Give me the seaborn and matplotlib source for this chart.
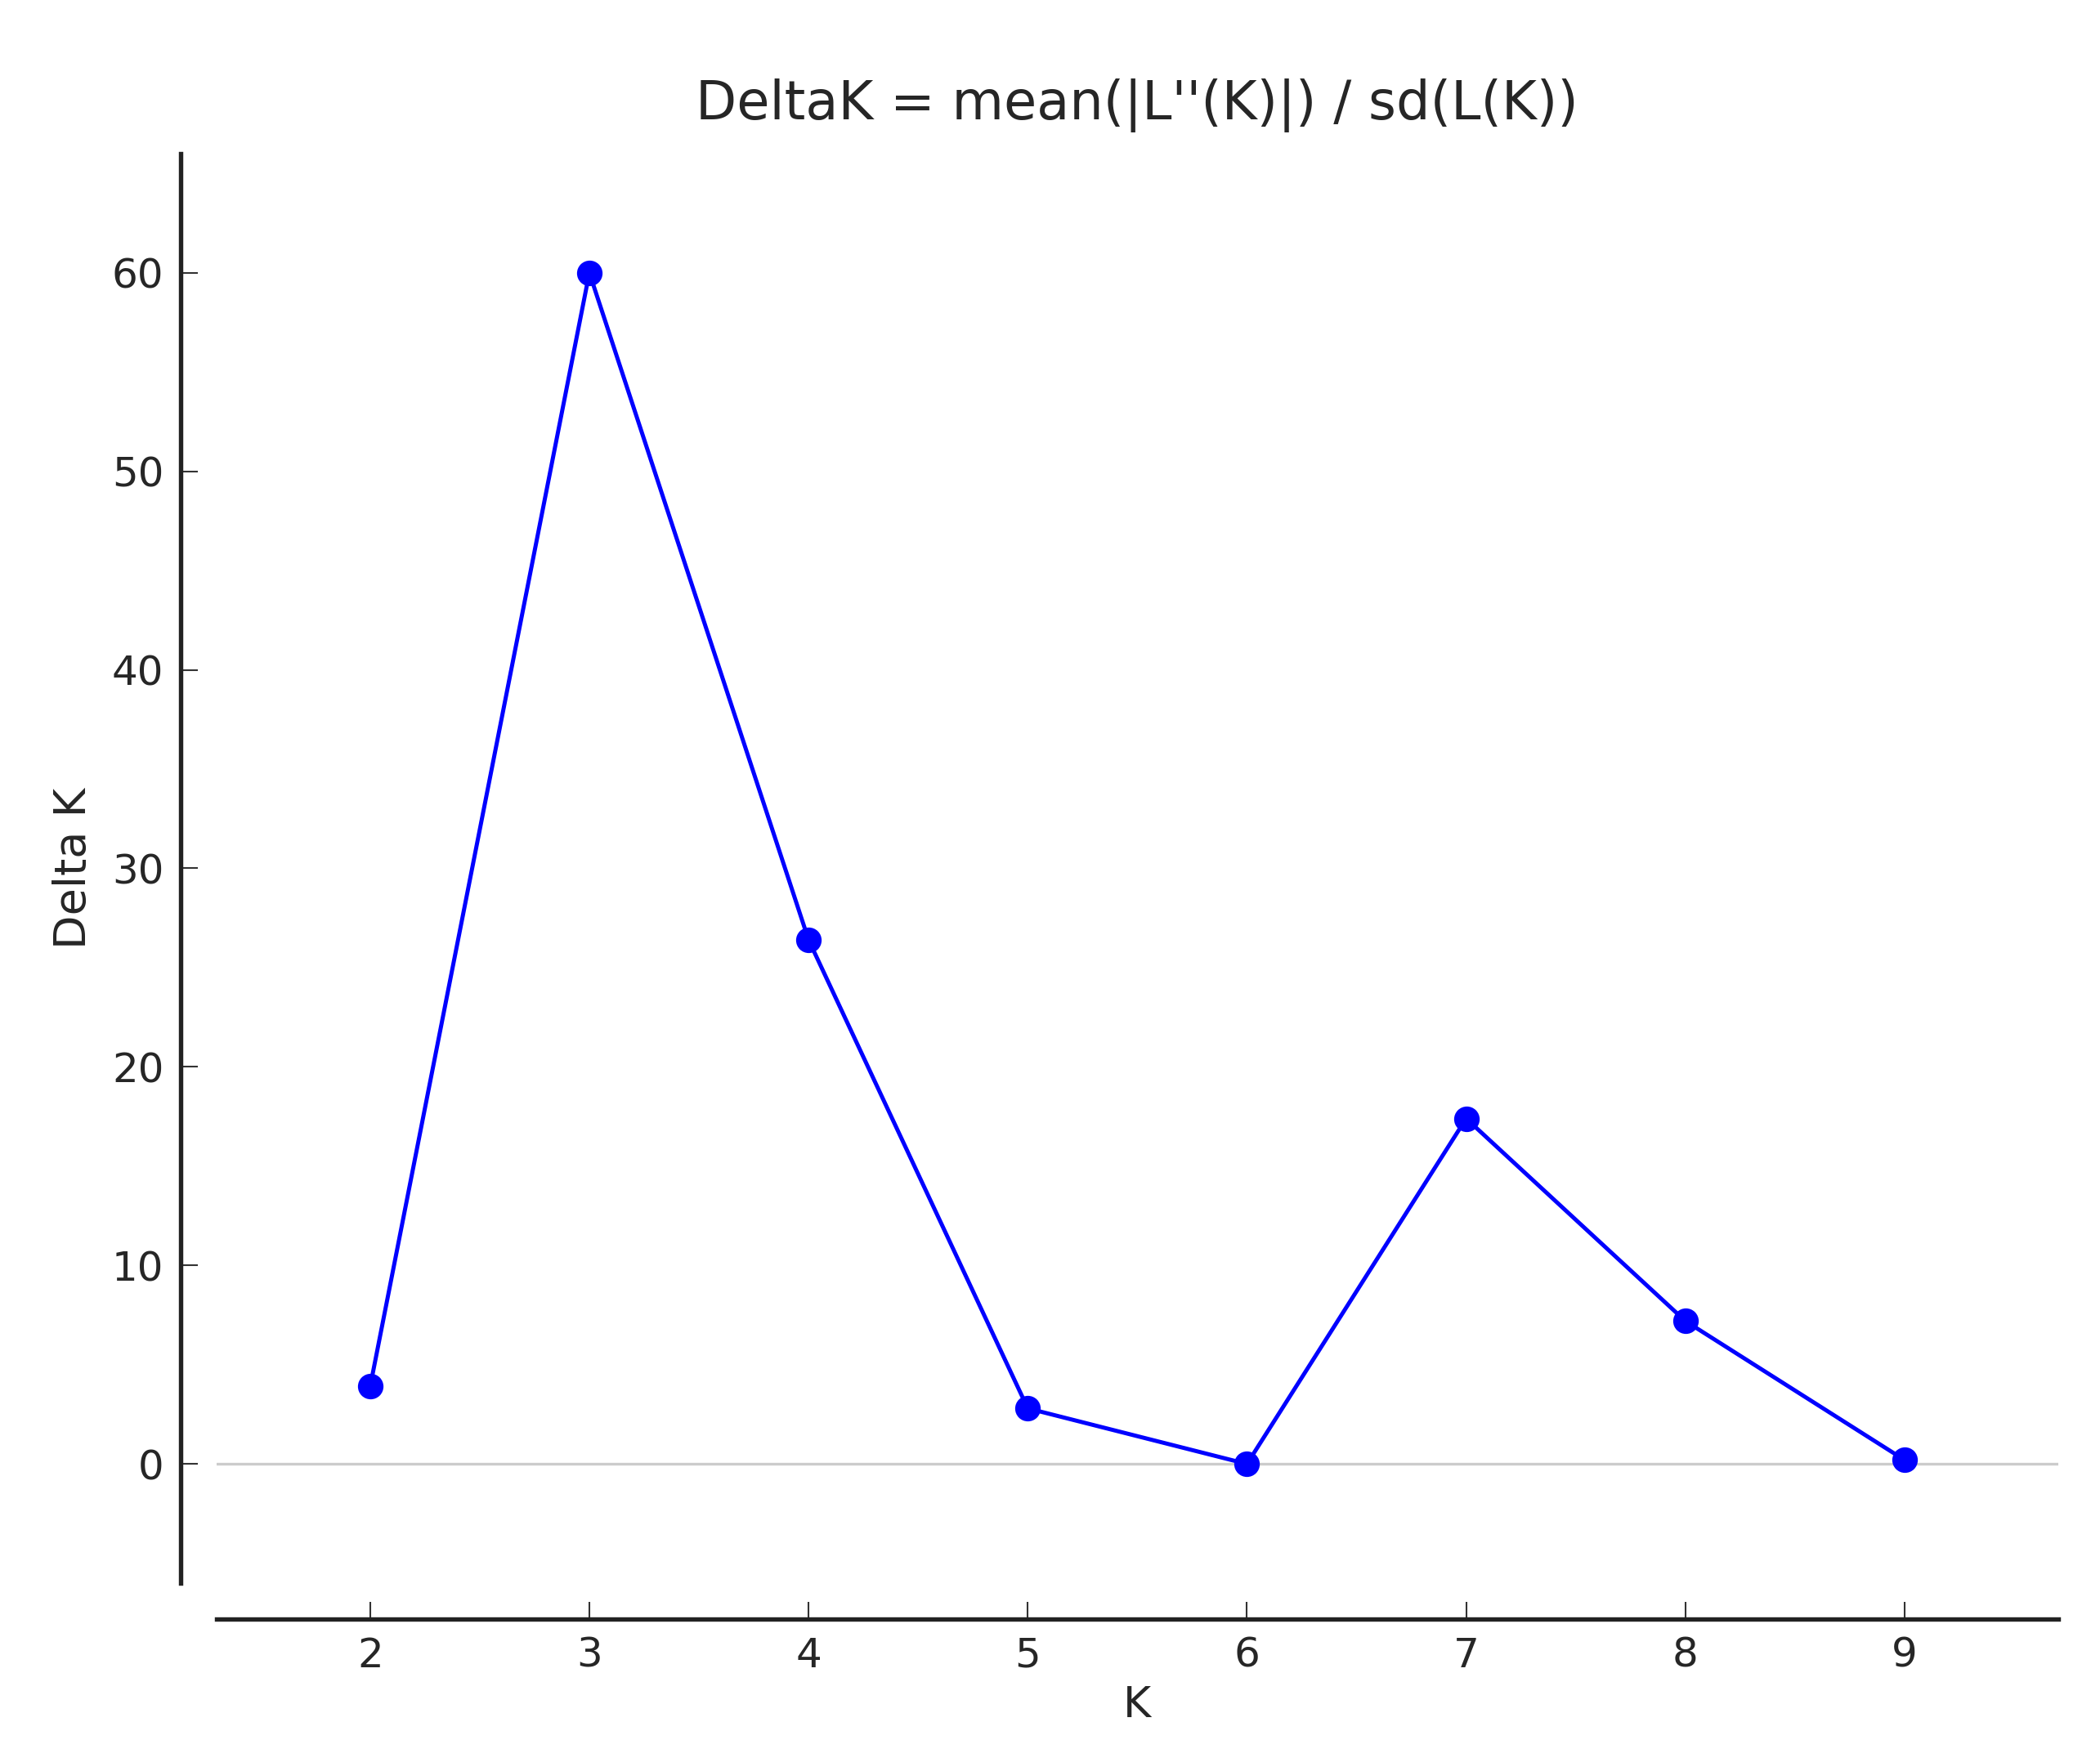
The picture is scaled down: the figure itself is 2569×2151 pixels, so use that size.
import pandas as pd
import numpy as np
import matplotlib
matplotlib.use("Agg")
import matplotlib.pyplot as plt
import seaborn as sns

# values
k_values = [2, 3, 4, 5, 6, 7, 8, 9]
delta_k = [3.9, 60.0, 26.4, 2.8, 0.0, 17.4, 7.2, 0.2]
y_ticks = [0, 10, 20, 30, 40, 50, 60]

title_text = "DeltaK = mean(|L''(K)|) / sd(L(K))"


def get_data() -> pd.DataFrame:
    return pd.DataFrame({"K": k_values, "Delta K": delta_k})


def draw_delta_k(df: pd.DataFrame, ax):
    ax.axhline(0, color="#cccccc", linewidth=0.8, zorder=1)
    sns.lineplot(data=df, x="K", y="Delta K", ax=ax, color="#0000ff",
                 linewidth=1.2, marker="o", markersize=7,
                 markeredgecolor="#0000ff", markeredgewidth=0.5, zorder=3)
    ax.set_xlim(1.3, 9.7)
    ax.set_ylim(-6, 66)
    ax.set_xticks(k_values)
    ax.set_yticks(y_ticks)
    ax.set_title(title_text, fontsize=15.7, pad=10)
    ax.set_xlabel("K", fontsize=12.5, labelpad=3)
    ax.set_ylabel("Delta K", fontsize=13, labelpad=5)
    ax.tick_params(axis="both", direction="in", length=5, width=0.5,
                   color="#333333", labelsize=12, pad=5)
    return ax


sns.set_style("ticks")
plt.rcParams["font.family"] = ["DejaVu Sans"]

fig = plt.figure(figsize=(2569 / 300, 2151 / 300), dpi=300)
ax = fig.add_axes([0.1032, 0.0995, 0.980 - 0.1032, 0.9126 - 0.0995])
draw_delta_k(get_data(), ax)
sns.despine(ax=ax, offset=10.5)
for side in ["left", "bottom"]:
    ax.spines[side].set_linewidth(1.3)
    ax.spines[side].set_color("#222222")

fig.savefig("out.png", dpi=300, facecolor="white")
